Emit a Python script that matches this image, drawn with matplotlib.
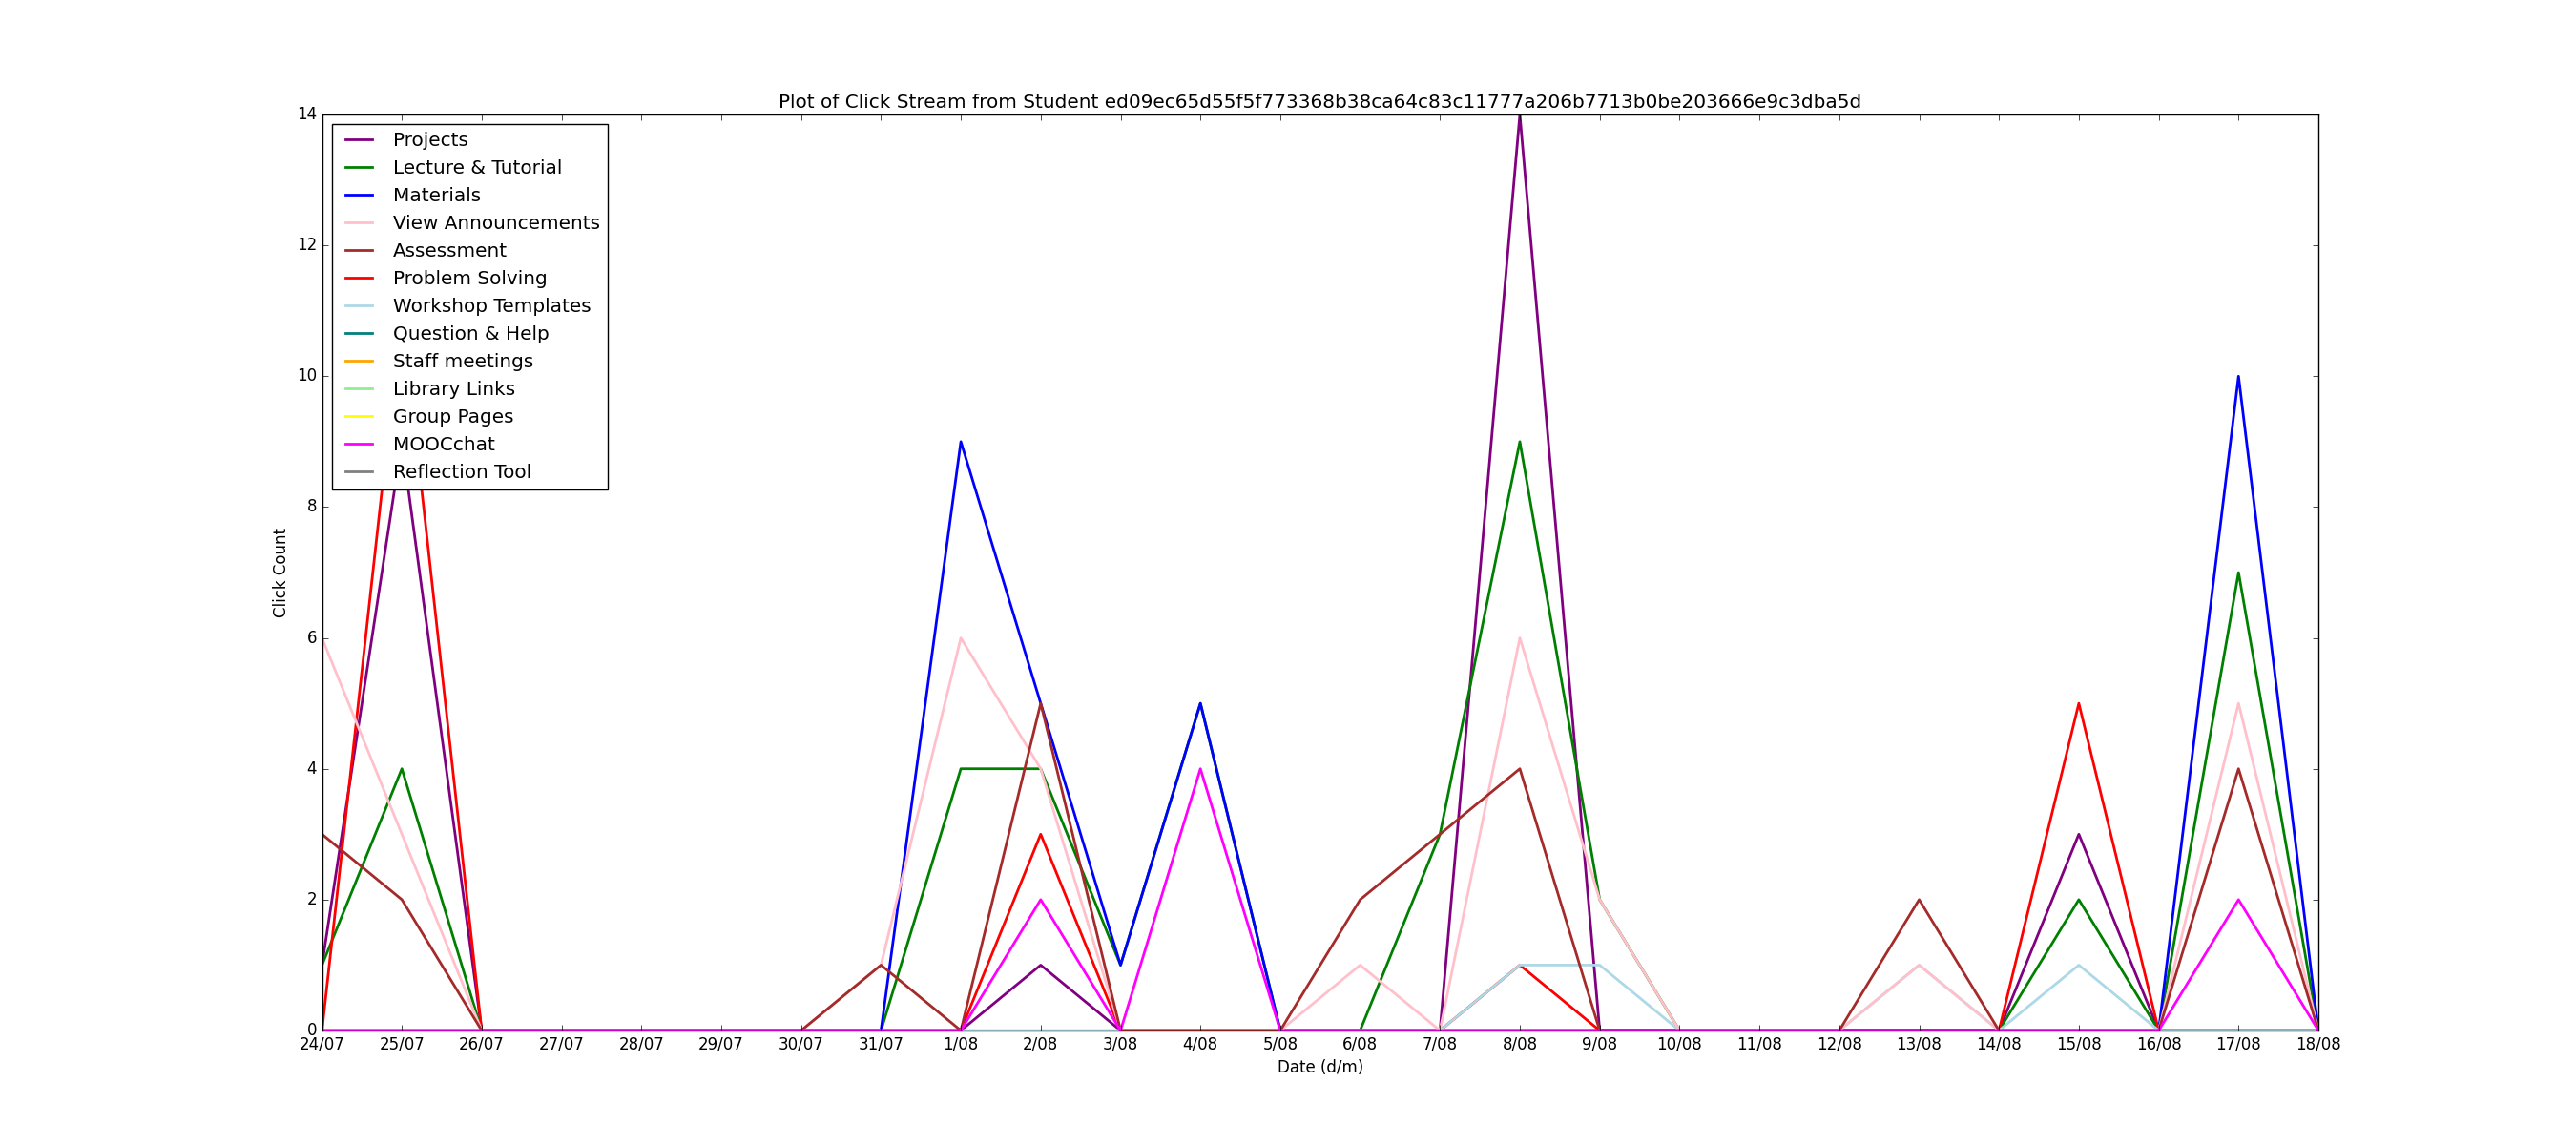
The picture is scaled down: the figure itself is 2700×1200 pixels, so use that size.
import matplotlib
matplotlib.use("Agg")
import matplotlib.pyplot as plt

dates = ['24/07', '25/07', '26/07', '27/07', '28/07', '29/07', '30/07', '31/07',
         '1/08', '2/08', '3/08', '4/08', '5/08', '6/08', '7/08', '8/08', '9/08',
         '10/08', '11/08', '12/08', '13/08', '14/08', '15/08', '16/08', '17/08', '18/08']

categories = ['Projects', 'Lecture & Tutorial', 'Materials', 'View Announcements',
              'Assessment', 'Problem Solving', 'Workshop Templates', 'Question & Help',
              'Staff meetings', 'Library Links', 'Group Pages', 'MOOCchat', 'Reflection Tool']

projects      = [1, 9, 0, 0, 0, 0, 0, 0, 0, 1, 0, 0, 0, 0, 0, 14, 0, 0, 0, 0, 0, 0, 3, 0, 0, 0]
lecture       = [1, 4, 0, 0, 0, 0, 0, 0, 4, 4, 1, 5, 0, 0, 3, 9, 2, 0, 0, 0, 0, 0, 2, 0, 7, 0]
materials     = [0, 0, 0, 0, 0, 0, 0, 0, 9, 5, 1, 5, 0, 0, 0, 0, 0, 0, 0, 0, 0, 0, 0, 0, 10, 0]
announcements = [6, 3, 0, 0, 0, 0, 0, 1, 6, 4, 0, 0, 0, 1, 0, 6, 2, 0, 0, 0, 1, 0, 0, 0, 5, 0]
assessment    = [3, 2, 0, 0, 0, 0, 0, 1, 0, 5, 0, 0, 0, 2, 3, 4, 0, 0, 0, 0, 2, 0, 0, 0, 4, 0]
problem       = [0, 11, 0, 0, 0, 0, 0, 0, 0, 3, 0, 0, 0, 0, 0, 1, 0, 0, 0, 0, 0, 0, 5, 0, 0, 0]
workshop      = [0, 0, 0, 0, 0, 0, 0, 0, 0, 0, 0, 0, 0, 0, 0, 1, 1, 0, 0, 0, 1, 0, 1, 0, 0, 0]
question      = [0] * 26
staff         = [0] * 26
library       = [0] * 26
group         = [0] * 26
moocchat      = [0, 0, 0, 0, 0, 0, 0, 0, 0, 2, 0, 4, 0, 0, 0, 0, 0, 0, 0, 0, 0, 0, 0, 0, 2, 0]
reflection    = [0] * 26

series = [projects, lecture, materials, announcements, assessment, problem, workshop,
          question, staff, library, group, moocchat, reflection]

colors = ['purple', 'green', 'blue', 'pink', 'brown', 'red', 'lightblue', 'teal',
          'orange', 'lightgreen', 'yellow', 'magenta', 'gray']

# stacking order of lines (bottom to top)
draw_order = ['Question & Help', 'Staff meetings', 'Library Links', 'Group Pages',
              'Reflection Tool', 'Projects', 'Lecture & Tutorial', 'Materials',
              'Problem Solving', 'Workshop Templates', 'View Announcements',
              'Assessment', 'MOOCchat']

plt.style.use('classic')
fig = plt.figure(figsize=(27, 12), dpi=100)
ax = fig.add_subplot(111)

x = list(range(len(dates)))
for name, vals, col in zip(categories, series, colors):
    ax.plot(x, vals, color=col, linewidth=2, label=name,
            zorder=2 + draw_order.index(name) * 0.01)

ax.set_xlim(0, len(dates) - 1)
ax.set_ylim(0, 14)
ax.set_yticks(range(0, 15, 2))
ax.set_xticks(x)
ax.set_xticklabels(dates)
ax.set_title('Plot of Click Stream from Student '
             'ed09ec65d55f5f773368b38ca64c83c11777a206b7713b0be203666e9c3dba5d')
ax.set_xlabel('Date (d/m)')
ax.set_ylabel('Click Count')
ax.legend(loc='upper left')

fig.savefig('out.png', dpi=100)
